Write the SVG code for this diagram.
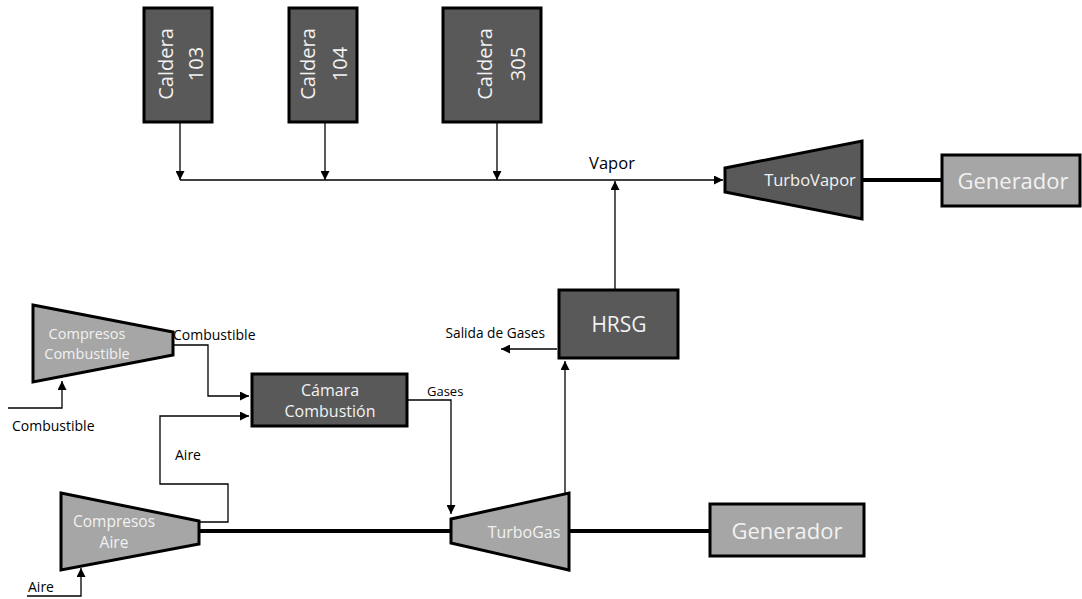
<svg xmlns="http://www.w3.org/2000/svg" width="1082" height="599" viewBox="0 0 1082 599">
<style>
.dark{fill:#595959;stroke:#000;stroke-width:3;stroke-linejoin:miter}
.light{fill:#a6a6a6;stroke:#000;stroke-width:3;stroke-linejoin:miter}
.wt{font-family:"Open Sans","Noto Sans",sans-serif;fill:#f2f2f2;text-anchor:middle}
.lb{font-family:"Open Sans","Noto Sans",sans-serif;fill:#000}
.ln{fill:none;stroke:#000;stroke-width:1.3}
.shaft{fill:none;stroke:#000;stroke-width:4}
</style>
<defs>
<marker id="ah" markerWidth="9" markerHeight="9" refX="9" refY="4.5" orient="auto" markerUnits="userSpaceOnUse">
<path d="M0,0 L9,4.5 L0,9 z" fill="#000"/>
</marker>
</defs>
<g id="connectors">
<path class="ln" d="M180,122 V180" marker-end="url(#ah)"/>
<path class="ln" d="M325,122 V180" marker-end="url(#ah)"/>
<path class="ln" d="M497,122 V180" marker-end="url(#ah)"/>
<path class="ln" d="M180,180 H723" marker-end="url(#ah)"/>
<path class="ln" d="M615,290 V181" marker-end="url(#ah)"/>
<path class="ln" d="M173,345 H208 V396 H249" marker-end="url(#ah)"/>
<path class="ln" d="M8,408 H62 V381" marker-end="url(#ah)"/>
<path class="ln" d="M199,522 H228 V484 H160 V416 H249" marker-end="url(#ah)"/>
<path class="ln" d="M27,596 H81 V568" marker-end="url(#ah)"/>
<path class="ln" d="M407,400 H451 V514" marker-end="url(#ah)"/>
<path class="ln" d="M565,493 V361" marker-end="url(#ah)"/>
<path class="ln" d="M557,349 H501" marker-end="url(#ah)"/>
<path class="shaft" d="M199,531 H451"/>
<path class="shaft" d="M569,531 H710"/>
<path class="shaft" d="M862,180 H942"/>
<text class="lb" x="612" y="169" text-anchor="middle" font-size="16.5">Vapor</text>
<text class="lb" x="173" y="340" font-size="14">Combustible</text>
<text class="lb" x="12" y="431" font-size="14">Combustible</text>
<text class="lb" x="175" y="460" font-size="14">Aire</text>
<text class="lb" x="28" y="592" font-size="14">Aire</text>
<text class="lb" x="427" y="396" font-size="13">Gases</text>
<text class="lb" x="545" y="338" text-anchor="end" font-size="13.7">Salida de Gases</text>
</g>
<g id="caldera103">
<rect class="dark" x="144" y="8" width="68" height="114"/>
<text class="wt" font-size="20" transform="translate(173,64) rotate(-90)">Caldera</text>
<text class="wt" font-size="20" transform="translate(203,64) rotate(-90)">103</text>
</g>
<g id="caldera104">
<rect class="dark" x="289" y="8" width="68" height="114"/>
<text class="wt" font-size="20" transform="translate(315,64) rotate(-90)">Caldera</text>
<text class="wt" font-size="20" transform="translate(347,64) rotate(-90)">104</text>
</g>
<g id="caldera305">
<rect class="dark" x="443" y="8" width="98" height="114"/>
<text class="wt" font-size="20" transform="translate(492,64) rotate(-90)">Caldera</text>
<text class="wt" font-size="20" transform="translate(525,64) rotate(-90)">305</text>
</g>
<g id="turbovapor">
<polygon class="dark" points="725,168 862,141 862,219 725,192"/>
<text class="wt" font-size="16.5" x="810" y="186">TurboVapor</text>
</g>
<g id="generador1">
<rect class="light" x="942" y="155" width="138" height="51"/>
<text class="wt" font-size="22" x="1013" y="189">Generador</text>
</g>
<g id="hrsg">
<rect class="dark" x="559" y="290" width="119" height="68"/>
<text class="wt" font-size="21" x="619" y="332">HRSG</text>
</g>
<g id="compresorCombustible">
<polygon class="light" points="33,305 173,332 173,355 33,382"/>
<text class="wt" font-size="14.5" x="87" y="339">Compresos</text>
<text class="wt" font-size="14.5" x="87" y="359">Combustible</text>
</g>
<g id="camara">
<rect class="dark" x="252" y="374" width="155" height="52"/>
<text class="wt" font-size="16" x="330" y="396">Cámara</text>
<text class="wt" font-size="16" x="330" y="417">Combustión</text>
</g>
<g id="compresorAire">
<polygon class="light" points="61,493 199,521 199,544 61,570"/>
<text class="wt" font-size="15.5" x="114" y="527">Compresos</text>
<text class="wt" font-size="15.5" x="114" y="548">Aire</text>
</g>
<g id="turbogas">
<polygon class="light" points="451,519 569,493 569,570 451,543"/>
<text class="wt" font-size="16" x="524" y="538">TurboGas</text>
</g>
<g id="generador2">
<rect class="light" x="710" y="504" width="154" height="52"/>
<text class="wt" font-size="22" x="787" y="539">Generador</text>
</g>
</svg>
